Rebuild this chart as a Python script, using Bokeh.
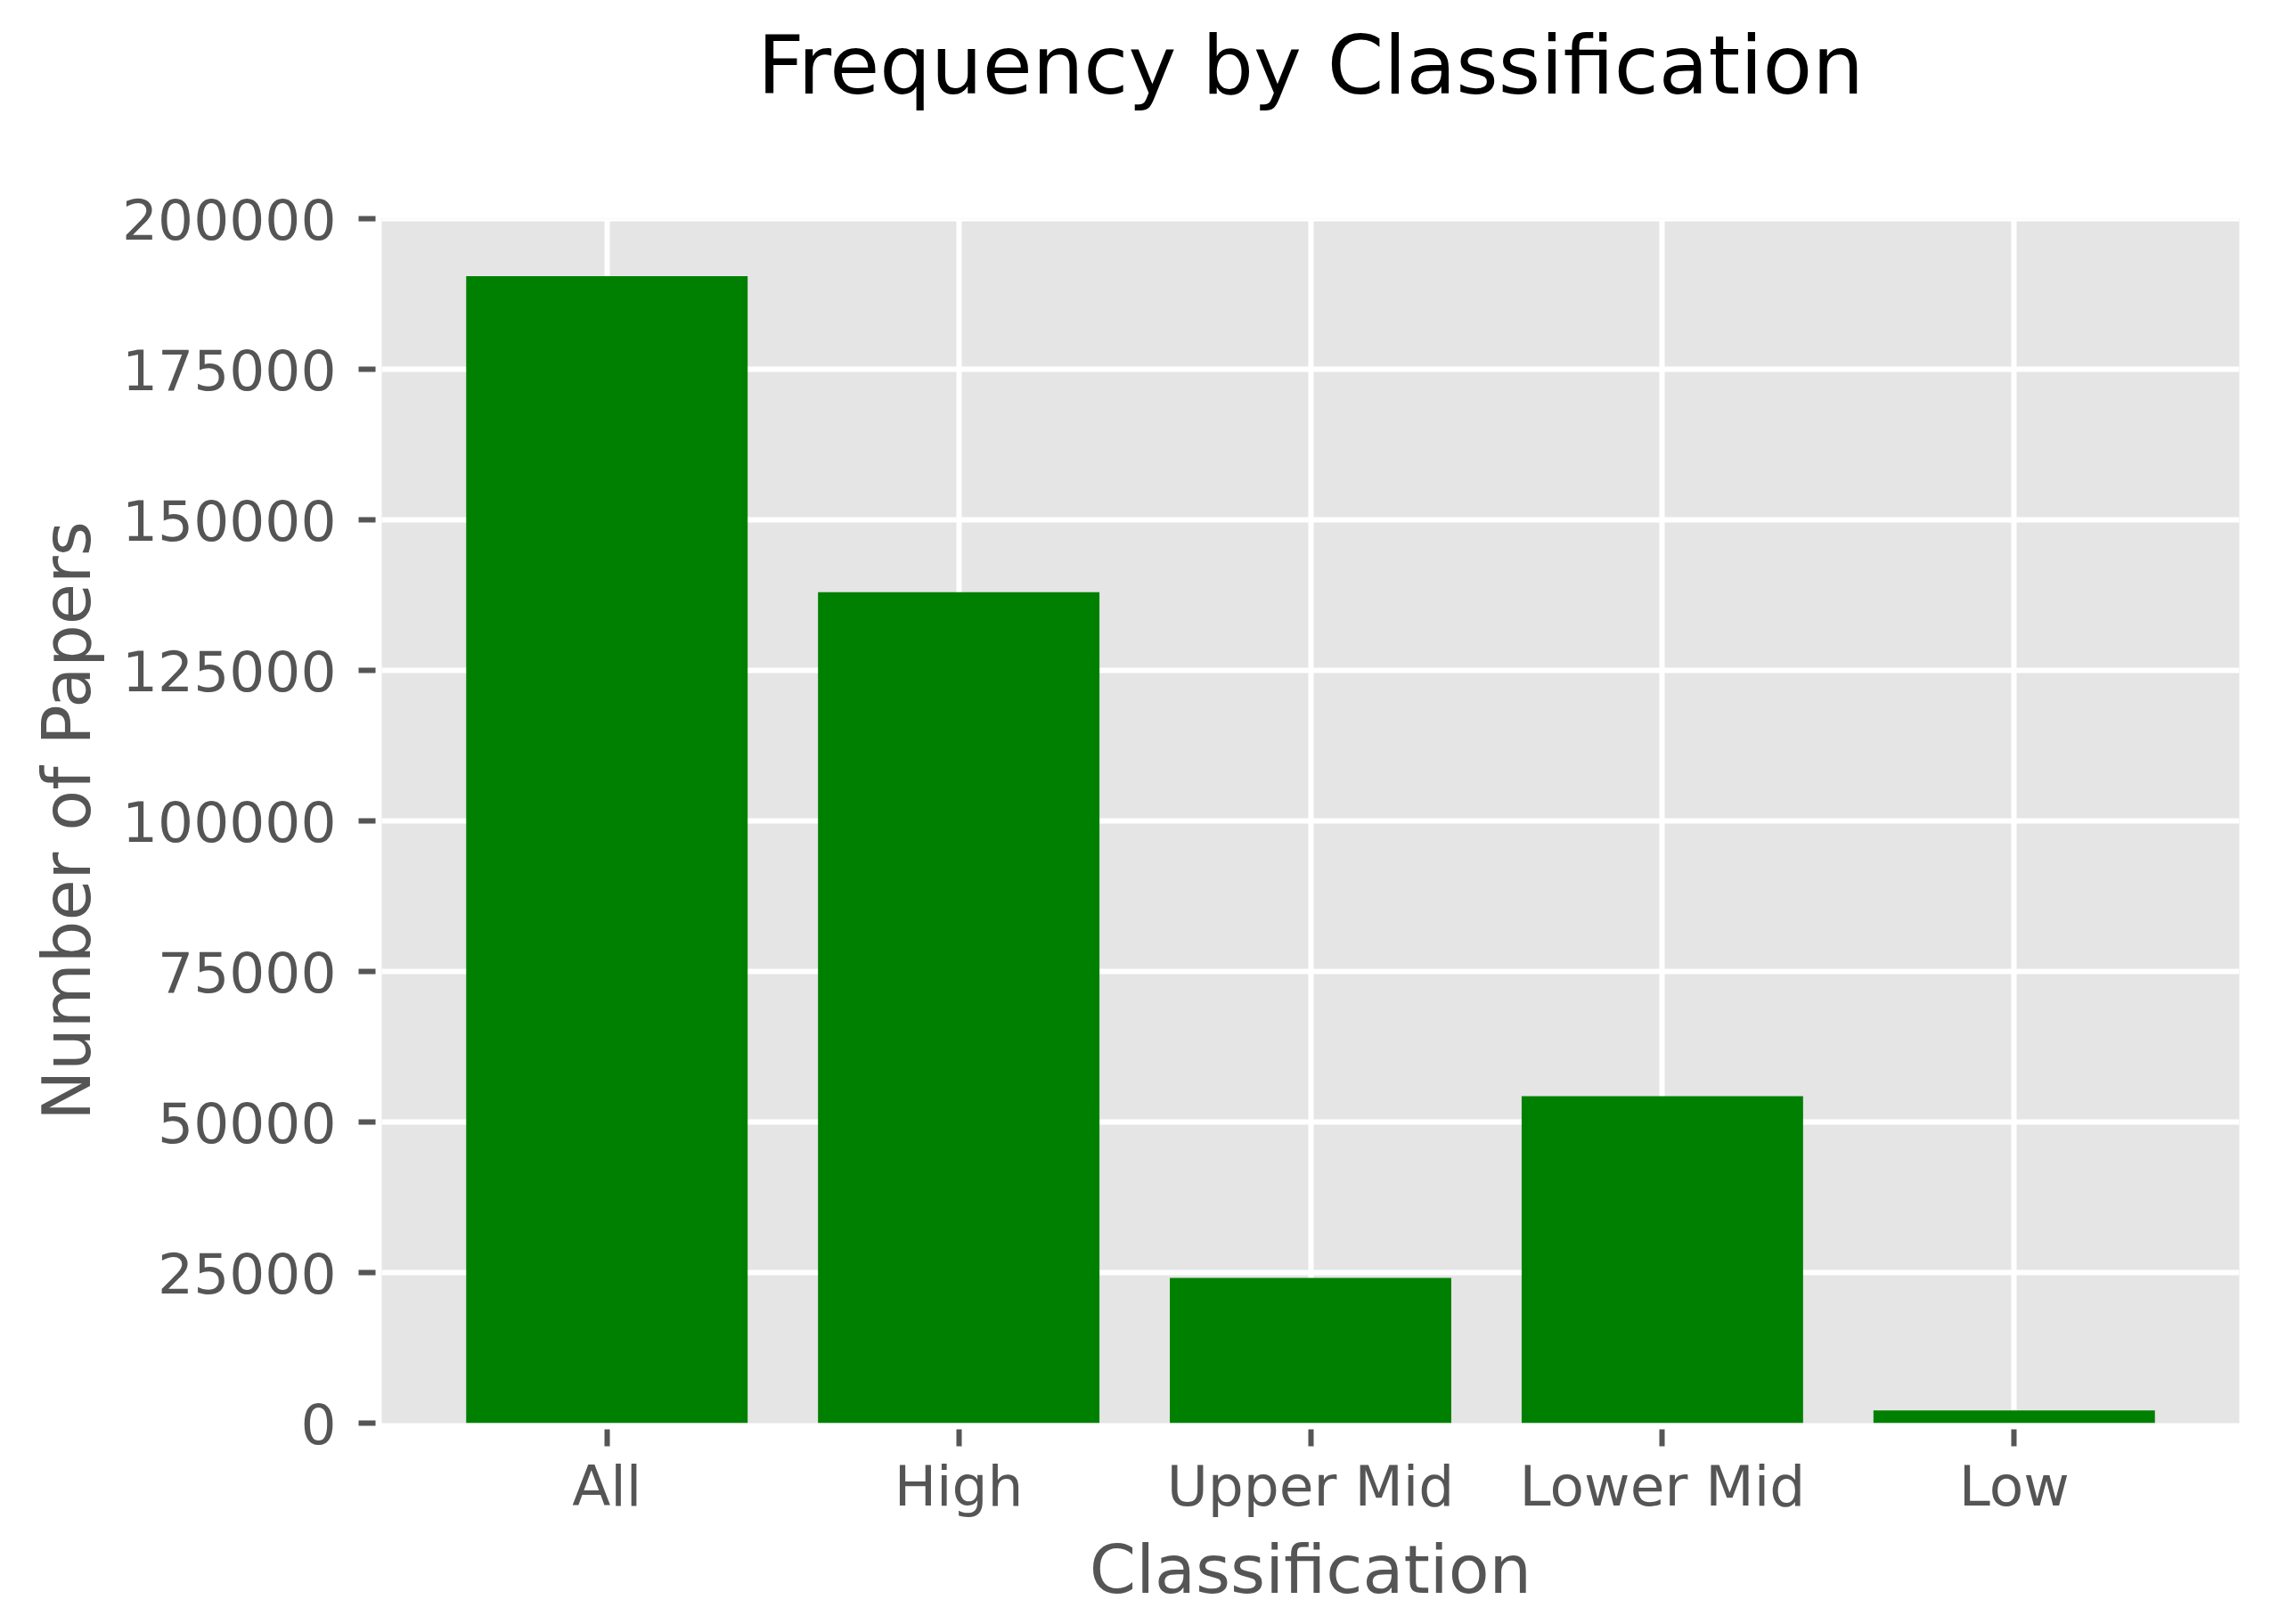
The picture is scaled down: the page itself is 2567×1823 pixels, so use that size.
from bokeh.plotting import figure
from bokeh.models import FactorRange, Range1d, FixedTicker, BasicTickFormatter, Title
from bokeh.embed import file_html
from bokeh.resources import INLINE

categories = ["All", "High", "Upper Mid", "Lower Mid", "Low"]
papers = [190500, 138000, 24100, 54300, 2100]
y_ticks = [0, 25000, 50000, 75000, 100000, 125000, 150000, 175000, 200000]
title_text = "Frequency by Classification"

TEXT = "#555555"
FONT = "DejaVu Sans"

p = figure(
    x_range=FactorRange(factors=categories, range_padding=0.056),
    y_range=Range1d(0, max(papers) * 1.05),
    frame_width=2085, frame_height=1352,
    min_border_left=428, min_border_top=245, min_border_right=38, min_border_bottom=210,
    output_backend="svg", toolbar_location=None,
    title=None,
)
p.background_fill_color = "#E5E5E5"
p.border_fill_color = "white"
p.outline_line_color = None

p.vbar(x=categories, top=papers, width=0.8, fill_color="#008000", line_color=None)

# spacer between frame and title (keeps the title high, as in the reference)
spacer = Title(text=" ", text_font=FONT, text_font_size="10px", standoff=97)
p.add_layout(spacer, "above")
main_title = Title(text=title_text, text_font=FONT, text_font_size="91px",
                   text_font_style="normal", text_color="black",
                   align="center", standoff=20)
p.add_layout(main_title, "above")

for ax in (p.xaxis[0], p.yaxis[0]):
    ax.axis_line_color = None
    ax.major_tick_line_color = TEXT
    ax.major_tick_line_width = 6
    ax.major_tick_in = -7
    ax.major_tick_out = 26
    ax.minor_tick_line_color = None
    ax.major_label_text_font = FONT
    ax.major_label_text_font_size = "63px"
    ax.major_label_text_color = TEXT
    ax.axis_label_text_font = FONT
    ax.axis_label_text_font_size = "75px"
    ax.axis_label_text_font_style = "normal"
    ax.axis_label_text_color = TEXT

p.xaxis.axis_label = "Classification"
p.yaxis.axis_label = "Number of Papers"
p.xaxis.major_label_standoff = 8
p.xaxis.axis_label_standoff = 10
p.yaxis.major_label_standoff = 25
p.yaxis.axis_label_standoff = 15
p.yaxis.ticker = FixedTicker(ticks=y_ticks)
p.yaxis.formatter = BasicTickFormatter(use_scientific=False)

p.grid.grid_line_color = "white"
p.grid.grid_line_width = 6
p.ygrid.ticker = FixedTicker(ticks=y_ticks)

open("out.html", "w").write(file_html(p, INLINE))
